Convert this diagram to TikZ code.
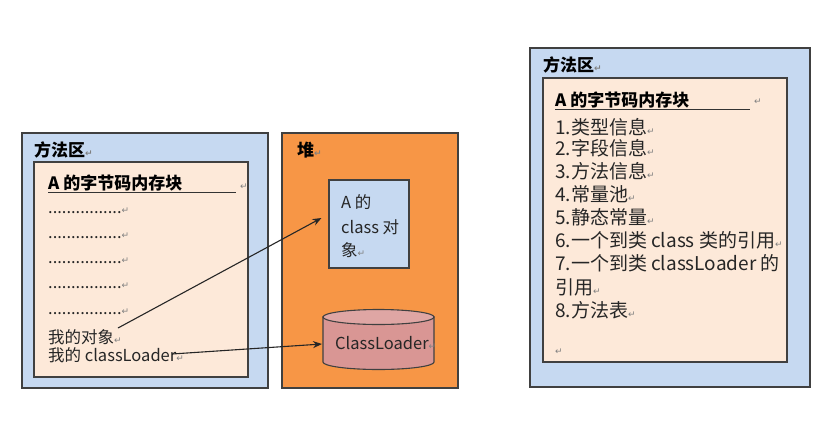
\documentclass[tikz,border=0pt]{standalone}
\usepackage{fontspec}
\setmainfont{Noto Sans CJK SC}
\newfontfamily\dvs{DejaVu Sans}
\usetikzlibrary{arrows.meta}
\definecolor{outerblue}{RGB}{198,217,241}
\definecolor{peach}{RGB}{253,233,217}
\definecolor{heaporange}{RGB}{247,150,70}
\definecolor{cylred}{RGB}{217,150,148}
\definecolor{edgegray}{RGB}{64,64,64}
\newcommand{\retmk}{{\dvs\color{black!50}\fontsize{9}{9}\selectfont ↵}}
\begin{document}
\begin{tikzpicture}[x=1pt,y=-1pt,
  box/.style={draw=edgegray,line width=1.1pt},
  txt/.style={anchor=base west,inner sep=0pt,text=black!85,font=\fontsize{16.5}{16}\selectfont},
  rtxt/.style={anchor=base west,inner sep=0pt,text=black!85,font=\fontsize{19}{18}\selectfont},
  ttl/.style={anchor=base west,inner sep=0pt,font=\bfseries\fontsize{17}{17}\selectfont},
  uline/.style={draw=black!80,line width=1pt},
  conn/.style={draw=black!85,line width=1.1pt,-{Stealth[length=9pt,width=7pt]}}]
\useasboundingbox (0,0) rectangle (834,445);
\fill[white] (0,0) rectangle (834,445);

% ---------- left method area
\draw[box,fill=outerblue] (22,133) rectangle (268,388);
\node[ttl] (ltitle) at (34,156) {方法区\retmk};
\draw[box,fill=peach] (34,162) rectangle (248,377);
\node[ttl] (lhead) at (48,189) {A 的字节码内存块};
\draw[uline] (48,192) -- (236,192);
\node[txt] (lheadret) at (240,189) {\retmk};
\node[txt] (d1) at (48,213) {................\retmk};
\node[txt] (d2) at (48,238) {................\retmk};
\node[txt] (d3) at (48,263) {................\retmk};
\node[txt] (d4) at (48,288) {................\retmk};
\node[txt] (d5) at (48,314) {................\retmk};
\node[txt] (obj) at (48,343) {我的对象\retmk};
\node[txt] (ldr) at (48,361) {我的 classLoader\retmk};

% ---------- heap
\draw[box,fill=heaporange] (282,133) rectangle (458,388);
\node[ttl] (heaptitle) at (297,156) {堆\retmk};
\node[box,fill=outerblue,minimum width=80pt,minimum height=88pt,inner sep=0pt] (abox) at (369,224) {};
\node[txt] (ab1) at (341,208) {A 的};
\node[txt] (ab2) at (341,233) {class 对};
\node[txt] (ab3) at (341,256) {象\retmk};
% cylinder
\path[box,fill=cylred] (323,317) -- (323,362)
  arc[start angle=180,end angle=0,x radius=55.5,y radius=7.5] -- (434,317) -- cycle;
\draw[box,fill=cylred!85!white] (378.5,317) ellipse [x radius=55.5,y radius=7.5];
\coordinate (cylw) at (322,344);
\node[txt] (cltext) at (335,349) {ClassLoader\retmk};

% ---------- right method area
\draw[box,fill=outerblue] (530,48) rectangle (810,387);
\node[ttl] (rtitle) at (543,71) {方法区\retmk};
\draw[box,fill=peach] (543,78) rectangle (787,362);
\node[ttl] (rhead) at (555,106) {A 的字节码内存块};
\draw[uline] (555,109) -- (750,109);
\node[txt] (rheadret) at (754,104) {\retmk};
\node[rtxt] (r1) at (555,134) {1.类型信息\retmk};
\node[rtxt] (r2) at (555,155) {2.字段信息\retmk};
\node[rtxt] (r3) at (555,178) {3.方法信息\retmk};
\node[rtxt] (r4) at (555,201) {4.常量池\retmk};
\node[rtxt] (r5) at (555,224) {5.静态常量\retmk};
\node[rtxt] (r6) at (555,247) {6.一个到类 class 类的引用\retmk};
\node[rtxt] (r7) at (555,270) {7.一个到类 classLoader 的};
\node[rtxt] (r7b) at (555,294) {引用\retmk};
\node[rtxt] (r8) at (555,317) {8.方法表\retmk};
\node[txt] (rend) at (555,354) {\retmk};

% ---------- connectors
\coordinate (s1) at (118,328);
\coordinate (s2) at (172,354);
\draw[conn] (s1) -- ([xshift=-7pt,yshift=6pt]abox.west);
\draw[conn] (s2) -- (cylw);
\end{tikzpicture}
\end{document}
